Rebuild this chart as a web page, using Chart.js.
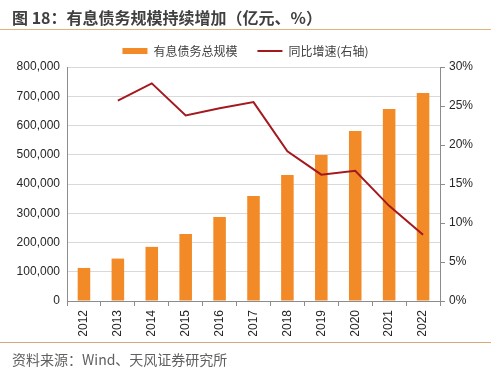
<!DOCTYPE html>
<html><head><meta charset="utf-8">
<script src="https://cdn.jsdelivr.net/npm/chart.js@4"></script>
<style>
html,body{margin:0;padding:0;background:#fff;width:491px;height:378px;overflow:hidden;}
#title{position:absolute;left:12px;top:5px;font:bold 16px "Noto Sans CJK SC","Liberation Sans",sans-serif;color:#404040;white-space:nowrap;}
#tline{position:absolute;left:0;top:29px;width:491px;height:1px;background:#e0b27c;}
#bline{position:absolute;left:0;top:342px;width:491px;height:1px;background:#d9a877;}
#source{position:absolute;left:12px;top:349px;font:14px "Noto Sans CJK SC","Liberation Sans",sans-serif;color:#606060;white-space:nowrap;}
#wrap{position:absolute;left:0;top:0;width:491px;height:378px;}
</style></head>
<body>
<div id="wrap"><canvas id="c" width="491" height="378"></canvas></div>
<div id="title">图 18：有息债务规模持续增加（亿元、%）</div>
<div id="tline"></div>
<div id="bline"></div>
<div id="source">资料来源：Wind、天风证券研究所</div>
<script>
const categories = ['2012','2013','2014','2015','2016','2017','2018','2019','2020','2021','2022'];
const debtTotal = [113000,145000,185000,229000,287000,359000,431000,499000,581000,656000,711000];
const yoyGrowth = [null,25.7,27.9,23.8,24.7,25.5,19.2,16.2,16.7,12.2,8.5];
const leftTicks = [0,100000,200000,300000,400000,500000,600000,700000,800000];
const rightTicks = [0,5,10,15,20,25,30];
const seriesNames = ['有息债务总规模','同比增速(右轴)'];

const tickFont = {family:'"Liberation Sans", Arial, sans-serif', size:12};
const axisColor = '#8c8c8c';
new Chart(document.getElementById('c'), {
  data: {
    labels: categories,
    datasets: [
      {type:'bar', label:seriesNames[0], data:debtTotal, backgroundColor:'#f28a28', borderWidth:0,
       barPercentage:0.37, categoryPercentage:1, yAxisID:'y', order:2, pointStyle:'rect'},
      {type:'line', label:seriesNames[1], data:yoyGrowth, borderColor:'#a3191e', backgroundColor:'#a3191e',
       borderWidth:2, pointRadius:0, tension:0, yAxisID:'y1', order:1, pointStyle:'line'}
    ]
  },
  options: {
    responsive:false, animation:false, devicePixelRatio:1,
    layout:{padding:{top:25,bottom:42,left:0,right:0}},
    plugins:{
      legend:{position:'top', align:'center',
        labels:{usePointStyle:true, pointStyleWidth:25, boxWidth:25, boxHeight:6, padding:20,
          sort:(a,b)=>a.datasetIndex-b.datasetIndex,
          color:'#404040', font:{family:'"Noto Sans CJK SC", sans-serif', size:12}}},
      tooltip:{enabled:false}
    },
    scales:{
      x:{type:'category', offset:true,
        grid:{offset:true, drawOnChartArea:false, drawTicks:true, tickLength:5, color:axisColor},
        border:{color:axisColor},
        ticks:{minRotation:90, maxRotation:90, color:'#262626', font:tickFont, padding:4},
        afterFit:s=>{s.height=35;}},
      y:{position:'left', min:0, max:800000, afterBuildTicks:s=>{s.ticks=leftTicks.map(v=>({value:v}));},
        grid:{color:'#d9d9d9', drawTicks:false},
        border:{color:axisColor},
        ticks:{color:'#262626', font:tickFont, padding:7, callback:v=>v.toLocaleString('en-US')},
        afterFit:s=>{s.width=67;}},
      y1:{position:'right', min:0, max:30, afterBuildTicks:s=>{s.ticks=rightTicks.map(v=>({value:v}));},
        grid:{drawOnChartArea:false, drawTicks:true, tickLength:5, color:axisColor},
        border:{color:axisColor},
        ticks:{color:'#262626', font:tickFont, padding:4, callback:v=>v+'%'},
        afterFit:s=>{s.width=51;}}
    }
  }
});
</script>
</body></html>
